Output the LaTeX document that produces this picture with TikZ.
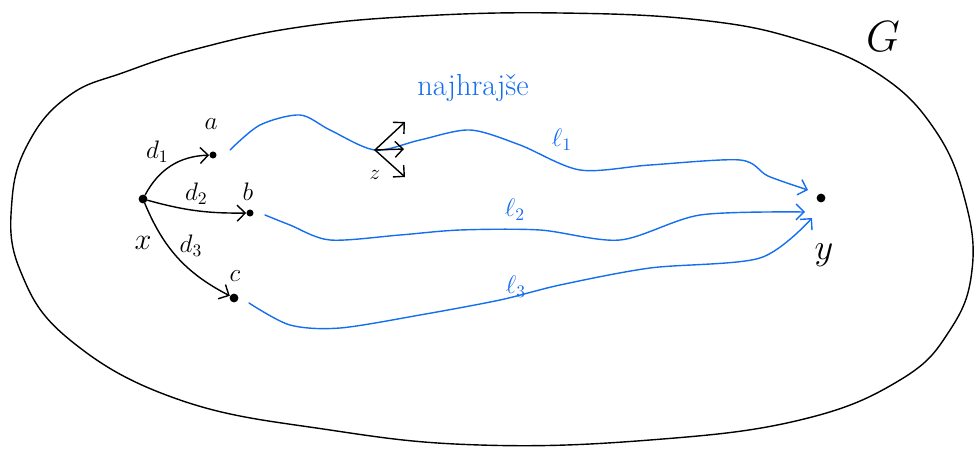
\documentclass[tikz,border=0pt]{standalone}
\usepackage{xcolor}
\usepackage{tikz}
\usetikzlibrary{arrows.meta,positioning}

\definecolor{penblue}{RGB}{20,110,240}

\begin{document}
\begin{tikzpicture}[
  x=0.02cm, y=-0.02cm,
  dot/.style={circle, fill=black, inner sep=0pt, minimum size=5pt},
  lbl/.style={font=\Large},
  arrow/.style={-{Straight Barb[length=1.6mm]}, thick, line cap=round},
  route/.style={arrow, draw=penblue},
]
  \useasboundingbox (0,0) rectangle (976,449);

  % the graph G
  \draw[thick] plot[smooth cycle, tension=0.7] coordinates {
    (125,72) (200,48) (300,27) (420,16) (560,13) (700,20) (800,40)
    (880,75) (935,130) (965,200) (972,270) (950,330) (900,380)
    (800,420) (650,440) (480,445) (330,430) (180,400) (70,340)
    (20,270) (12,200) (30,140) (70,95)};
  \node[font=\Huge] (g) at (883,37) {$G$};

  % points
  \node[dot] (x) at (143,199) {};
  \node[dot, minimum size=4pt] (a) at (213,155) {};
  \node[dot, minimum size=4pt] (b) at (250,213) {};
  \node[dot] (c) at (234,298) {};
  \node[dot] (y) at (821,198) {};
  \coordinate (z) at (375,150);

  \node[font=\LARGE] (xl) at (143,243) {$x$};
  \node[lbl] (al) at (211,124) {$a$};
  \node[lbl] (bl) at (248,192) {$b$};
  \node[lbl] (cl) at (235,276) {$c$};
  \node[font=\huge] (yl) at (824,255) {$y$};
  \node[font=\large] (zl) at (375,175) {$z$};

  % first steps
  \draw[arrow] (x) to[bend left=30] node[above left=-3pt, lbl] {$d_1$} (a);
  \draw[arrow] (x) to[bend right=8] node[above, lbl] {$d_2$} (b);
  \draw[arrow] (x) to[bend right=20] node[above right=-4pt, lbl] {$d_3$} (c);

  % shortest paths to y
  \draw[route] plot[smooth] coordinates {([shift={(17,-5)}]a) (260,125)
    (300,115) (330,130) (z) (420,140) (470,130) (520,145) (580,170)
    (650,165) (740,160) (768,176) ([shift={(-13,-8)}]y)};
  \draw[route] plot[smooth] coordinates {([shift={(15,2)}]b) (290,225)
    (330,240) (400,235) (460,230) (540,230) (620,240) (700,215)
    ([shift={(-16,14)}]y)};
  \draw[route] plot[smooth] coordinates {([shift={(15,5)}]c) (290,325)
    (340,328) (420,315) (500,300) (560,285) (650,268) (760,258)
    ([shift={(-9,20)}]y)};

  \node[lbl, text=penblue] (l1) at (562,140) {$\ell_1$};
  \node[lbl, text=penblue] (l2) at (515,210) {$\ell_2$};
  \node[lbl, text=penblue] (l3) at (516,287) {$\ell_3$};

  % choices at z
  \draw[arrow] (z) -- ++(30,-28);
  \draw[arrow] (z) -- ++(29,-1);
  \draw[arrow] (z) -- ++(30,27);
  \node[font=\LARGE, text=penblue] (naj) at (473,88) {najhrajše};
\end{tikzpicture}
\end{document}
